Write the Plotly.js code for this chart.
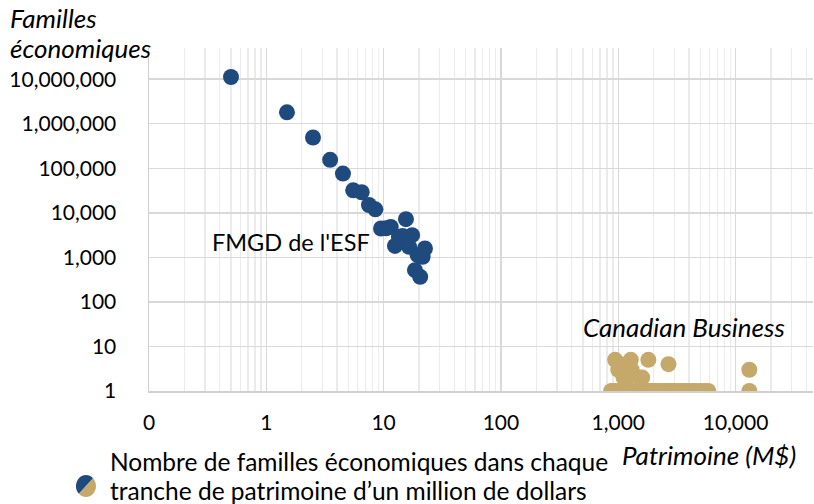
<!DOCTYPE html>
<html>
<head>
<meta charset="utf-8">
<script src="https://cdn.plot.ly/plotly-3.0.1.min.js"></script>
<style>html,body{margin:0;padding:0;background:#fff;}#chart{width:814px;height:504px;}</style>
</head>
<body>
<div id="chart"></div>
<script>
// ---- Data ----
// ESF (FMGD de l'ESF): wealth bracket midpoint (M$) and number of economic families
const esfWealth = [0.5, 1.5, 2.5, 3.5, 4.5, 5.5, 6.5, 7.5, 8.5, 9.5, 10.5, 11.5, 12.5, 13.5, 14.5, 15.5, 16.5, 17.5, 18.5, 19.5, 20.5, 21.5, 22.5];
const esfFamilies = [11200000, 1800000, 490000, 155000, 76000, 32000, 29000, 15000, 12000, 4450, 4500, 4830, 1810, 2880, 3000, 7190, 1720, 3150, 516, 1120, 365, 1030, 1580];

// Canadian Business: wealth (M$) and number of families
const cbWealth = [940, 1280, 1805, 2680, 1050, 1000, 1300, 1110, 1200, 1530, 1600,
  870, 900, 950, 1000, 1050, 1100, 1150, 1200, 1250, 1300, 1400, 1500, 1600, 1700, 1800, 1900,
  2000, 2100, 2200, 2300, 2400, 2500, 2600, 2700, 2800, 2900, 3000, 3200, 3400, 3600, 3800,
  4000, 4300, 4600, 5000, 5400, 5840, 13100, 13100];
const cbFamilies = [5, 5, 5, 4, 4, 3, 3, 2, 2, 2, 2,
  1, 1, 1, 1, 1, 1, 1, 1, 1, 1, 1, 1, 1, 1, 1, 1,
  1, 1, 1, 1, 1, 1, 1, 1, 1, 1, 1, 1, 1, 1, 1,
  1, 1, 1, 1, 1, 1, 3, 1];

const xTickVals = [0.1, 1, 10, 100, 1000, 10000];
const xTickText = ['0', '1', '10', '100', '1,000', '10,000'];
const yTickVals = [1, 10, 100, 1000, 10000, 100000, 1000000, 10000000];
const yTickText = ['1', '10', '100', '1,000', '10,000', '100,000', '1,000,000', '10,000,000'];

// ---- Styling ----
const BLUE = '#1F4A7E';
const GOLD = '#C5A96B';
const FONT = 'Lato, "Open Sans", sans-serif';
const W = 814, H = 504;
const L = 149, R = 1, T = 48, B = 113;
const PW = W - L - R, PH = H - T - B;
const px = x => (x - L) / PW;
const py = y => (H - B - y) / PH;

const minorX = [];
for (let d = -1; d <= 4; d++) for (let m = 2; m <= 9; m++) minorX.push(m * Math.pow(10, d));

const traces = [
  { x: esfWealth, y: esfFamilies, type: 'scatter', mode: 'markers',
    marker: { color: BLUE, size: 16, line: { width: 0 } }, name: 'FMGD de l\'ESF' },
  { x: cbWealth, y: cbFamilies, type: 'scatter', mode: 'markers',
    marker: { color: GOLD, size: 16, line: { width: 0 } }, name: 'Canadian Business' }
];

function ann(text, x, y, size) {
  return { text: text, xref: 'paper', yref: 'paper', x: px(x), y: py(y),
    xanchor: 'left', yanchor: 'middle', showarrow: false,
    font: { family: FONT, size: size, color: '#000' } };
}

// split circle legend icon (bezier arcs)
function arcPath(cx, cy, rx, ry, a1, a2) {
  let s = '';
  const steps = Math.round(Math.abs(a2 - a1) / 90);
  const da = (a2 - a1) / steps;
  const k = 4 / 3 * Math.tan((da * Math.PI / 180) / 4);
  for (let i = 0; i < steps; i++) {
    const t1 = (a1 + i * da) * Math.PI / 180, t2 = (a1 + (i + 1) * da) * Math.PI / 180;
    const p0 = [cx + rx * Math.cos(t1), cy + ry * Math.sin(t1)];
    const p3 = [cx + rx * Math.cos(t2), cy + ry * Math.sin(t2)];
    const p1 = [p0[0] - k * rx * Math.sin(t1), p0[1] + k * ry * Math.cos(t1)];
    const p2 = [p3[0] + k * rx * Math.sin(t2), p3[1] - k * ry * Math.cos(t2)];
    s += ' C' + p1[0].toFixed(2) + ',' + p1[1].toFixed(2) + ' ' + p2[0].toFixed(2) + ',' + p2[1].toFixed(2) + ' ' + p3[0].toFixed(2) + ',' + p3[1].toFixed(2);
  }
  return s;
}
function halfEllipse(a1, a2) {
  const rx = 10, ry = 11;
  const st = [rx * Math.cos(a1 * Math.PI / 180), ry * Math.sin(a1 * Math.PI / 180)];
  return 'M' + st[0].toFixed(2) + ',' + st[1].toFixed(2) + arcPath(0, 0, rx, ry, a1, a2) + ' Z';
}
const iconX = px(86), iconY = py(486);
const shapes = [
  { type: 'path', xref: 'paper', yref: 'paper', xsizemode: 'pixel', ysizemode: 'pixel',
    xanchor: iconX, yanchor: iconY, path: halfEllipse(45, 225), fillcolor: BLUE, line: { width: 0 } },
  { type: 'path', xref: 'paper', yref: 'paper', xsizemode: 'pixel', ysizemode: 'pixel',
    xanchor: iconX, yanchor: iconY, path: halfEllipse(225, 405), fillcolor: GOLD, line: { width: 0 } }
];

const layout = {
  width: W, height: H,
  margin: { l: L, r: R, t: T, b: B, pad: 0 },
  paper_bgcolor: '#fff', plot_bgcolor: '#fff',
  showlegend: false, hovermode: false,
  font: { family: FONT, size: 21, color: '#000' },
  xaxis: {
    type: 'log', range: [-1, 4.66], tickmode: 'array', tickvals: xTickVals, ticktext: xTickText,
    showgrid: true, gridcolor: '#D9D9D9', gridwidth: 1.5,
    minor: { tickmode: 'array', tickvals: minorX, showgrid: true, gridcolor: '#EBEBEB', gridwidth: 1.3, ticks: '' },
    showline: true, linecolor: '#D0D0D0', linewidth: 1.5, zeroline: false, ticks: '',
    ticklabelstandoff: 12, tickfont: { family: FONT, size: 21, color: '#000' }
  },
  yaxis: {
    type: 'log', range: [0, 7.7], tickmode: 'array', tickvals: yTickVals, ticktext: yTickText,
    showgrid: true, gridcolor: '#D9D9D9', gridwidth: 1.5,
    showline: true, linecolor: '#D0D0D0', linewidth: 1.5, zeroline: false, ticks: '',
    ticklabelstandoff: 27, tickfont: { family: FONT, size: 21, color: '#000' }
  },
  annotations: [
    ann('<i>Familles</i>', 8, 18, 26),
    ann('<i>économiques</i>', 8, 48, 26),
    ann('FMGD de l\'ESF', 210, 242, 23.5),
    ann('<i>Canadian Business</i>', 581, 327, 26),
    ann('<i>Patrimoine (M$)</i>', 620, 455, 26),
    ann('Nombre de familles économiques dans chaque', 108, 461, 24.5),
    ann('tranche de patrimoine d’un million de dollars', 108, 490, 24.5)
  ],
  shapes: shapes
};

Plotly.newPlot('chart', traces, layout, { staticPlot: true, displayModeBar: false });
</script>
</body>
</html>
